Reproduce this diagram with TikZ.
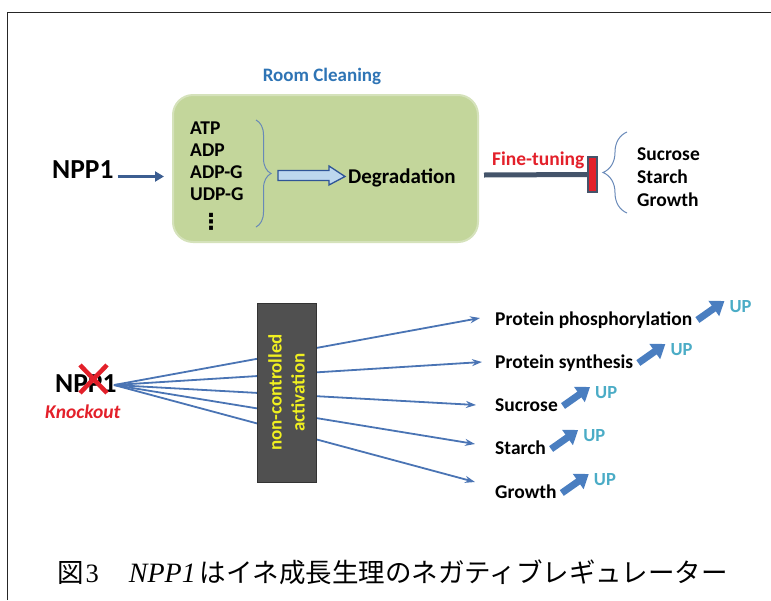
\documentclass[tikz,border=0pt]{standalone}
\usepackage{fontspec}
\setmainfont{Carlito}
\newfontfamily\serifjp{Liberation Serif}
\newfontfamily\cjk{Noto Sans CJK JP}
\newfontfamily\dejavu{DejaVu Sans}
\usetikzlibrary{arrows.meta,calc,decorations.pathreplacing}

\definecolor{roomblue}{HTML}{2E74B5}
\definecolor{boxgreen}{HTML}{C3D69B}
\definecolor{boxedge}{HTML}{D5E2BB}
\definecolor{nppblue}{HTML}{3C5E91}
\definecolor{hollowfill}{HTML}{BDD7EE}
\definecolor{hollowedge}{HTML}{2F5597}
\definecolor{slate}{HTML}{44546A}
\definecolor{tred}{HTML}{E3202A}
\definecolor{bracecol}{HTML}{6889B8}
\definecolor{fanblue}{HTML}{4A74B4}
\definecolor{darkbox}{HTML}{505050}
\definecolor{ylw}{HTML}{F0F020}
\definecolor{upblue}{HTML}{4A7EC0}
\definecolor{upteal}{HTML}{4BACC6}

\tikzset{
  lbl/.style={font=\fontsize{19.5}{22}\selectfont\bfseries, inner sep=0pt, anchor=base west},
  bigname/.style={font=\fontsize{27.5}{30}\selectfont\bfseries, inner sep=0pt, anchor=base west},
  uplbl/.style={font=\fontsize{18.5}{20}\selectfont\bfseries, text=upteal, inner sep=0pt, anchor=base west},
  thinbrace/.style={draw=bracecol, line width=1pt, decorate},
  fanline/.style={draw=fanblue, line width=1.8pt, -{Stealth[length=10pt,width=7pt]}},
  uparrow/.style={draw=upblue, line width=7pt, -{Triangle[length=13pt,width=18pt]}},
}

\begin{document}
\begin{tikzpicture}[x=1pt,y=-1pt]
\useasboundingbox (0,0) rectangle (771,600);

% frame
\draw[line width=1.5pt, draw=black!85] (7.5,600) -- (7.5,12.5) -- (771,12.5);

% ---------- upper part: normal NPP1 ----------
\node[anchor=base, font=\fontsize{19}{22}\selectfont\bfseries, text=roomblue, inner sep=0pt]
  (roomlbl) at (322,81) {Room Cleaning};
\node[draw=boxedge, line width=2pt, fill=boxgreen, rounded corners=20pt,
      minimum width=305pt, minimum height=147pt, inner sep=0pt] (room) at (325.5,168.5) {};

\node[bigname] (npp1) at (52,178) {NPP1};
\draw[draw=nppblue, line width=3.5pt, -{Triangle[length=9pt,width=10pt]}, shorten >=8pt]
  ([shift={(4,-1.5)}]npp1.base east) -- ([shift={(0,-1.5)}]npp1.base east -| room.west);

\node[lbl] (atp)  at (190,134) {ATP};
\node[lbl] (adp)  at (190,156) {ADP};
\node[lbl] (adpg) at (190,178) {ADP-G};
\node[lbl] (udpg) at (190,200) {UDP-G};
\node[inner sep=0pt, anchor=base, font=\fontsize{22}{24}\selectfont\dejavu\bfseries] (dots) at (211,229) {⋮};

\draw[thinbrace, decoration={brace, amplitude=15pt}] (256,120) -- (256,227);
\coordinate (bt) at (271,174);

\node[lbl, font=\fontsize{21}{22}\selectfont\bfseries] (deg) at (348,183) {Degradation};

% hollow arrow from the brace to the degradation label
\draw[fill=hollowfill, draw=hollowedge, line width=1.3pt, line join=miter]
  ($(bt)+(7,-3.5)$) -- ($(bt)+(58,-3.5)$) -- ($(bt)+(58,-8)$) -- ($(deg.base west)+(-3,-6.5)$)
  -- ($(bt)+(58,11)$) -- ($(bt)+(58,6.5)$) -- ($(bt)+(7,6.5)$) -- cycle;

% fine-tuning inhibition
\node[draw=slate, line width=1.5pt, fill=tred, minimum width=9pt, minimum height=35pt, inner sep=0pt]
  (bar) at (592.5,174.5) {};
\draw[draw=slate, line width=5pt] ([shift={(5,6.5)}]room.east) -- (bar.west);
\node[lbl, text=tred] (ft) at (492,165) {Fine-tuning};

\draw[thinbrace, decoration={brace, amplitude=24pt}] (627,213) -- (627,132);
\node[lbl] (suc1) at (637,160) {Sucrose};
\node[lbl] (sta1) at (637,183) {Starch};
\node[lbl] (gro1) at (637,206) {Growth};

% ---------- lower part: NPP1 knockout ----------
\node[bigname] (npp2) at (55,392) {NPP1};
\node[lbl, font=\fontsize{19.5}{22}\selectfont\bfseries\itshape, text=tred] (ko) at (45,418) {Knockout};
\draw[draw=tred, line width=4.5pt]
  ([shift={(25,-27)}]npp2.base west) -- ([shift={(52,1)}]npp2.base west)
  ([shift={(52,-27)}]npp2.base west) -- ([shift={(25,1)}]npp2.base west);
\coordinate (fan) at ([shift={(59,-7)}]npp2.base west);

\node[lbl] (t1) at (495,325) {Protein phosphorylation};
\node[lbl] (t2) at (495,368) {Protein synthesis};
\node[lbl] (t3) at (495,411) {Sucrose};
\node[lbl] (t4) at (495,454) {Starch};
\node[lbl] (t5) at (495,498) {Growth};

\draw[fanline] (fan) -- ([shift={(-15,-7)}]t1.base west);
\draw[fanline] (fan) -- ([shift={(-13,-6)}]t2.base west);
\draw[fanline] (fan) -- ([shift={(-19,-6)}]t3.base west);
\draw[fanline] (fan) -- ([shift={(-20,-10)}]t4.base west);
\draw[fanline] (fan) -- ([shift={(-20,-16)}]t5.base west);

\node[draw=black!80, line width=1pt, fill=darkbox, minimum width=59pt, minimum height=179pt,
      inner sep=0pt] (ctrl) at (286.5,392.5) {};
\node[rotate=90, align=center, text=ylw, inner sep=0pt,
      font=\fontsize{19}{23}\selectfont\bfseries] (ctrltxt) at (ctrl.center) {non-controlled\\activation};

\foreach \t/\u in {t1/up1,t2/up2,t3/up3,t4/up4,t5/up5}{
  \draw[uparrow] ([shift={(5,-5)}]\t.base east) -- ([shift={(32,-24)}]\t.base east);
  \node[uplbl] (\u) at ([shift={(37,-13)}]\t.base east) {UP};
}

% ---------- caption ----------
\node[anchor=base west, inner sep=0pt, font=\fontsize{26.5}{28}\selectfont\cjk] (cap) at (57,582)
  {図\hspace{2pt}{\serifjp 3}\hspace{30pt}{\fontsize{28}{28}\selectfont\serifjp\itshape NPP1}\hspace{4pt}はイネ成長生理のネガティブレギュレーター};
\end{tikzpicture}
\end{document}
